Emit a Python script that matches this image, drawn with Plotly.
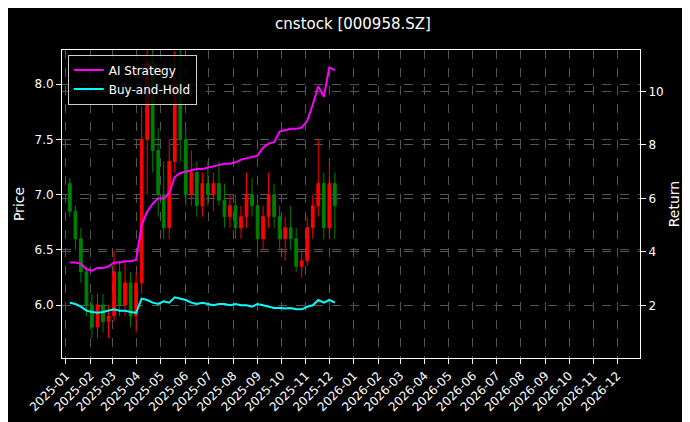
import pandas as pd
import plotly.graph_objects as go

dates = pd.date_range("2025-01-06", periods=49, freq="W-MON")

opens = [7.1, 6.85, 6.6, 6.3, 6.0, 5.8, 6.0, 5.85, 5.9, 6.3, 6.0, 6.2, 5.9, 6.2, 7.5, 8.2, 7.4,
         7.0, 6.7, 7.3, 8.0, 7.5, 7.0, 7.2, 6.9, 7.1, 7.0, 7.1, 6.95, 6.8, 6.9, 6.7, 6.8, 7.0,
         6.9, 6.6, 6.8, 7.0, 6.8, 6.6, 6.7, 6.6, 6.35, 6.4, 6.7, 6.9, 7.1, 6.7, 7.1]
highs = [7.15, 6.9, 6.7, 6.35, 6.1, 6.1, 6.1, 6.0, 6.5, 6.4, 6.4, 6.3, 6.3, 7.8, 8.5, 8.4, 7.6,
         7.3, 7.5, 8.3, 8.4, 7.6, 7.4, 7.3, 7.2, 7.3, 7.2, 7.3, 7.1, 7.0, 7.0, 6.9, 7.2, 7.15,
         7.0, 6.9, 7.2, 7.1, 6.9, 6.8, 6.9, 6.7, 6.5, 6.8, 7.0, 7.5, 7.2, 7.3, 7.2]
lows = [6.8, 6.5, 6.2, 5.9, 5.7, 5.7, 5.75, 5.7, 5.85, 5.9, 5.9, 5.8, 5.75, 6.1, 7.0, 7.2, 6.8,
        6.6, 6.6, 7.2, 7.3, 6.9, 6.9, 6.8, 6.8, 6.9, 6.85, 6.9, 6.7, 6.7, 6.6, 6.6, 6.7, 6.8,
        6.5, 6.5, 6.7, 6.7, 6.5, 6.4, 6.5, 6.3, 6.25, 6.35, 6.6, 6.8, 6.6, 6.6, 6.6]
closes = [6.85, 6.6, 6.3, 6.0, 5.8, 6.0, 5.85, 5.9, 6.3, 6.0, 6.2, 5.9, 6.2, 7.5, 8.2, 7.4, 7.0,
          6.7, 7.3, 8.0, 7.5, 7.0, 7.2, 6.9, 7.1, 7.0, 7.1, 6.95, 6.8, 6.9, 6.7, 6.8, 7.0, 6.9,
          6.6, 6.8, 7.0, 6.8, 6.6, 6.7, 6.6, 6.35, 6.4, 6.7, 6.9, 7.1, 6.7, 7.1, 6.9]

ai_strategy = [3.6, 3.6, 3.55, 3.35, 3.3, 3.4, 3.4, 3.45, 3.6, 3.6, 3.65, 3.65, 3.7, 5.0, 5.5,
               5.8, 6.0, 6.0, 6.2, 6.8, 6.95, 7.0, 7.05, 7.1, 7.1, 7.15, 7.2, 7.25, 7.3, 7.3,
               7.35, 7.45, 7.5, 7.55, 7.6, 7.9, 8.05, 8.1, 8.5, 8.55, 8.6, 8.6, 8.65, 8.9, 9.5,
               10.2, 9.8, 10.9, 10.8]
buy_hold = [2.1, 2.05, 1.95, 1.8, 1.75, 1.72, 1.75, 1.8, 1.85, 1.8, 1.8, 1.75, 1.72, 2.25, 2.2,
            2.1, 2.05, 2.15, 2.1, 2.3, 2.25, 2.2, 2.1, 2.05, 2.1, 2.05, 2.0, 2.05, 2.05, 2.0,
            2.05, 2.0, 2.0, 1.95, 2.05, 2.0, 1.95, 1.9, 1.9, 1.88, 1.9, 1.85, 1.85, 1.95, 2.0,
            2.2, 2.1, 2.2, 2.1]

fig = go.Figure()
fig.add_trace(go.Candlestick(
    x=dates, open=opens, high=highs, low=lows, close=closes,
    increasing=dict(line=dict(color="#ff0000", width=1), fillcolor="#ff0000"),
    decreasing=dict(line=dict(color="#008000", width=1), fillcolor="#008000"),
    whiskerwidth=0, showlegend=False,
))
fig.add_trace(go.Scatter(x=dates, y=ai_strategy, name="AI Strategy", yaxis="y2",
                         mode="lines", line=dict(color="#ff00ff", width=2)))
fig.add_trace(go.Scatter(x=dates, y=buy_hold, name="Buy-and-Hold", yaxis="y2",
                         mode="lines", line=dict(color="#00ffff", width=2)))

common = dict(showline=True, linecolor="white", ticks="outside", tickcolor="white",
              zeroline=False, automargin=False, tickfont=dict(size=12))
grid = dict(showgrid=True, gridcolor="#555555", griddash="dash", gridwidth=0.7)

fig.update_layout(
    width=690, height=422,
    paper_bgcolor="black", plot_bgcolor="black",
    font=dict(family="DejaVu Sans", color="white", size=12),
    title=dict(text="cnstock [000958.SZ]", x=0.5, y=0.975, xanchor="center",
               font=dict(size=15), automargin=False),
    margin=dict(l=54, r=58, t=42, b=72, autoexpand=False),
    xaxis=dict(**common, **grid, mirror=True, range=["2024-12-27", "2026-12-30"], dtick="M1",
               tick0="2025-01-01", tickformat="%Y-%m", tickangle=-45,
               rangeslider=dict(visible=False)),
    yaxis=dict(**common, **grid, mirror=True, range=[5.52, 8.31], dtick=0.5, tick0=6.0,
               tickformat=".1f", title=dict(text="Price", standoff=6)),
    yaxis2=dict(**common, **grid, overlaying="y", side="right", range=[0.03, 11.55],
                dtick=2, tick0=2, title=dict(text="Return", standoff=6)),
    legend=dict(x=0.01, y=0.985, xanchor="left", yanchor="top",
                bgcolor="rgba(0,0,0,0.8)", bordercolor="#cccccc", borderwidth=1,
                font=dict(size=12)),
)

fig.write_html("out.html")
